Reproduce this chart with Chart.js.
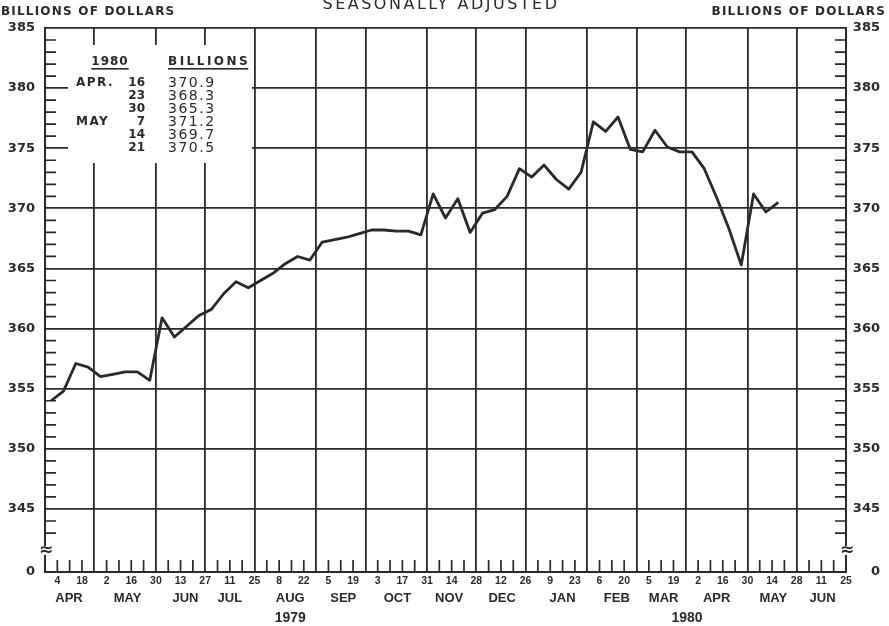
<!DOCTYPE html>
<html>
<head>
<meta charset="utf-8">
<script src="https://cdn.jsdelivr.net/npm/chart.js@4.4.0/dist/chart.umd.min.js"></script>
<style>
html,body{margin:0;padding:0;background:#fff;}
canvas{display:block;}
</style>
</head>
<body>
<canvas id="c" width="889" height="626"></canvas>
<script>
// Weekly values, billions of dollars (seasonally adjusted),
// weeks ending Wed Apr 4 1979 ... Wed May 21 1980, plotted at mid-week.
const weeklyValues = [
  354.0, 354.8, 357.1, 356.8, 356.0, 356.2, 356.4, 356.4, 355.7, 360.9,
  359.3, 360.2, 361.1, 361.6, 362.9, 363.9, 363.4, 364.0, 364.6, 365.4,
  366.0, 365.7, 367.2, 367.4, 367.6, 367.9, 368.2, 368.2, 368.1, 368.1,
  367.8, 371.2, 369.2, 370.8, 368.0, 369.6, 369.9, 371.0, 373.3, 372.6,
  373.6, 372.4, 371.6, 373.0, 377.2, 376.4, 377.6, 374.9, 374.7, 376.5,
  375.1, 374.7, 374.7, 373.3, 370.9, 368.3, 365.3, 371.2, 369.7, 370.5
];
// day-of-month tick labels, every second Wednesday from Apr 4 1979 (week 0) to Jun 25 1980 (week 64)
const dayTickLabels = ['4','18','2','16','30','13','27','11','25','8','22','5','19','3','17','31',
  '14','28','12','26','9','23','6','20','5','19','2','16','30','14','28','11','25'];
const monthNames = ['APR','MAY','JUN','JUL','AUG','SEP','OCT','NOV','DEC','JAN','FEB','MAR','APR','MAY','JUN'];
const monthLabelWeeks = [0.95, 5.7, 10.4, 14.0, 18.9, 23.2, 27.6, 31.8, 36.1, 41.0, 45.4, 49.2, 53.5, 58.1, 62.1];
const monthEndWeeks = [3, 8, 12, 16, 21, 25, 30, 34, 38, 43, 47, 51, 56, 60, 64];
const yearNames = ['1979', '1980'];
const yearLabelWeeks = [18.9, 51.1];
const yTickValues = [345, 350, 355, 360, 365, 370, 375, 380, 385];
const yBreakLabel = '0';
const tableHeader = ['1980', 'BILLIONS'];
const tableMonths = ['APR.', '', '', 'MAY', '', ''];
const tableDays = ['16', '23', '30', '7', '14', '21'];
const tableValues = weeklyValues.slice(-6).map(v => v.toFixed(1));
const headerLeft = 'BILLIONS OF DOLLARS';
const headerRight = 'BILLIONS OF DOLLARS';
const headerTitle = 'SEASONALLY ADJUSTED';

const X_MIN = -1, X_MAX = 64, Y_MIN = 339.76, Y_MAX = 385;
const INK = '#2a2a2a';
const DJ = "'DejaVu Sans', sans-serif";
const LB = "'Liberation Sans', Arial, sans-serif";

const points = weeklyValues.map((v, i) => ({ x: i - 0.5, y: v }));

const decor = {
  id: 'decor',
  beforeDatasetsDraw(chart) {
    const { ctx, chartArea: a } = chart;
    const x = chart.scales.x, y = chart.scales.y;
    ctx.save();
    ctx.strokeStyle = INK;
    ctx.lineWidth = 1.7;
    ctx.beginPath();
    for (let w = 0; w < 64; w++) {
      if (monthEndWeeks.includes(w)) continue;
      const px = x.getPixelForValue(w);
      ctx.moveTo(px, a.bottom);
      ctx.lineTo(px, a.bottom - 12);
    }
    for (let v = 343; v < 385; v++) {
      if (v % 5 === 0) continue;
      const py = y.getPixelForValue(v);
      ctx.moveTo(a.left, py); ctx.lineTo(a.left + 11, py);
      ctx.moveTo(a.right - 11, py); ctx.lineTo(a.right, py);
    }
    ctx.stroke();

    // inset table
    const bx = a.left + 23, by = a.top + 17;
    ctx.fillStyle = '#fff';
    ctx.fillRect(bx, by, 184, 118);
    ctx.fillStyle = INK;
    ctx.textBaseline = 'alphabetic';
    ctx.font = 'bold 12px ' + DJ;
    ctx.letterSpacing = '1px';
    ctx.textAlign = 'center';
    const hy = a.top + 37;
    ctx.fillText(tableHeader[0], a.left + 65, hy);
    let w0 = ctx.measureText(tableHeader[0]).width;
    ctx.fillRect(a.left + 65 - w0 / 2, hy + 3, w0, 1.6);
    ctx.letterSpacing = '2.5px';
    ctx.textAlign = 'left';
    ctx.fillText(tableHeader[1], a.left + 123, hy);
    let w1 = ctx.measureText(tableHeader[1]).width;
    ctx.fillRect(a.left + 123, hy + 3, w1 - 2, 1.6);

    for (let i = 0; i < tableDays.length; i++) {
      const ry = a.top + 58 + 13 * i;
      ctx.font = 'bold 12px ' + DJ;
      ctx.letterSpacing = '1.5px';
      ctx.textAlign = 'left';
      if (tableMonths[i]) ctx.fillText(tableMonths[i], a.left + 31, ry);
      ctx.letterSpacing = '0px';
      ctx.textAlign = 'right';
      ctx.fillText(tableDays[i], a.left + 100, ry);
      ctx.font = '14px ' + DJ;
      ctx.letterSpacing = '1.5px';
      ctx.textAlign = 'left';
      ctx.fillText(tableValues[i], a.left + 123, ry + 1);
    }
    ctx.restore();
  },
  afterDraw(chart) {
    const { ctx, chartArea: a } = chart;
    ctx.save();
    // axis break marks
    ctx.font = 'bold 17px ' + DJ;
    ctx.textAlign = 'center';
    ctx.textBaseline = 'middle';
    [a.left, a.right].forEach(px => {
      ctx.fillStyle = '#fff';
      ctx.fillRect(px - 4, a.bottom - 26, 8, 9);
      ctx.fillStyle = INK;
      ctx.fillText('\u2248', px + 1, a.bottom - 21);
    });
    // headers
    ctx.fillStyle = INK;
    ctx.textBaseline = 'alphabetic';
    ctx.font = 'bold 12px ' + DJ;
    ctx.letterSpacing = '1.2px';
    ctx.textAlign = 'left';
    ctx.fillText(headerLeft, 1, 15);
    ctx.textAlign = 'right';
    ctx.fillText(headerRight, 886, 15);
    ctx.font = '16px ' + DJ;
    ctx.letterSpacing = '2.5px';
    ctx.textAlign = 'center';
    ctx.fillText(headerTitle, 441, 9);
    ctx.restore();
  }
};

new Chart(document.getElementById('c'), {
  type: 'line',
  data: {
    datasets: [{
      data: points,
      borderColor: INK,
      borderWidth: 2.8,
      pointRadius: 0,
      tension: 0,
      fill: false,
      borderJoinStyle: 'round'
    }]
  },
  options: {
    responsive: false,
    animation: false,
    devicePixelRatio: 1,
    layout: { padding: { top: 28, right: 9, left: 0, bottom: 0 } },
    plugins: { legend: { display: false }, tooltip: { enabled: false }, title: { display: false } },
    scales: {
      x: {
        type: 'linear', position: 'bottom', min: X_MIN, max: X_MAX, weight: 0,
        afterBuildTicks: s => { s.ticks = Array.from({ length: X_MAX + 1 }, (_, w) => ({ value: w })); },
        afterFit: s => { s.height = 16; },
        ticks: {
          autoSkip: false, maxRotation: 0, minRotation: 0, padding: 3, color: INK,
          font: { family: LB, size: 10.5, weight: 'bold' },
          callback: v => (v % 2 === 0 ? dayTickLabels[v / 2] : '')
        },
        grid: {
          drawTicks: false, lineWidth: 1.8,
          color: c => (c.tick && monthEndWeeks.includes(c.tick.value)) ? INK : 'rgba(0,0,0,0)'
        },
        border: { display: true, color: INK, width: 2 }
      },
      xMonth: {
        type: 'linear', position: 'bottom', min: X_MIN, max: X_MAX, weight: 1,
        afterBuildTicks: s => { s.ticks = monthLabelWeeks.map(v => ({ value: v })); },
        afterFit: s => { s.height = 18; },
        ticks: {
          autoSkip: false, maxRotation: 0, minRotation: 0, padding: 3, color: INK,
          font: { family: LB, size: 13, weight: 'bold' },
          callback: (v, i) => monthNames[i]
        },
        grid: { display: false, drawTicks: false },
        border: { display: false }
      },
      xYear: {
        type: 'linear', position: 'bottom', min: X_MIN, max: X_MAX, weight: 2,
        afterBuildTicks: s => { s.ticks = yearLabelWeeks.map(v => ({ value: v })); },
        afterFit: s => { s.height = 20; },
        ticks: {
          autoSkip: false, maxRotation: 0, minRotation: 0, padding: 4, color: INK,
          font: { family: LB, size: 14, weight: 'bold' },
          callback: (v, i) => yearNames[i]
        },
        grid: { display: false, drawTicks: false },
        border: { display: false }
      },
      y: {
        type: 'linear', position: 'left', min: Y_MIN, max: Y_MAX,
        afterBuildTicks: s => { s.ticks = [Y_MIN, ...yTickValues].map(v => ({ value: v })); },
        afterFit: s => { s.width = 45; },
        ticks: {
          padding: 10, color: INK,
          font: { family: DJ, size: 13, weight: 'bold' },
          callback: v => (v === Y_MIN ? yBreakLabel : String(v))
        },
        grid: { drawTicks: false, lineWidth: 1.8, color: INK },
        border: { display: true, color: INK, width: 2 }
      },
      y2: {
        type: 'linear', position: 'right', min: Y_MIN, max: Y_MAX,
        afterBuildTicks: s => { s.ticks = [Y_MIN, ...yTickValues].map(v => ({ value: v })); },
        afterFit: s => { s.width = 34; },
        ticks: {
          padding: 8, color: INK, crossAlign: 'far',
          font: { family: DJ, size: 13, weight: 'bold' },
          callback: v => (v === Y_MIN ? yBreakLabel : String(v))
        },
        grid: { display: false, drawTicks: false },
        border: { display: true, color: INK, width: 2 }
      }
    }
  },
  plugins: [decor]
});
</script>
</body>
</html>
